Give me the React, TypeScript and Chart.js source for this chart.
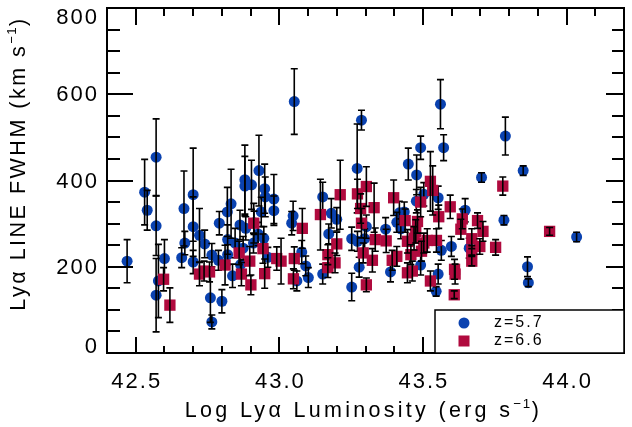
import React, { useEffect, useRef } from "react";
import { Chart, registerables } from "chart.js";

Chart.register(...registerables);

// ---- data ----
const blueLum = [42.47, 42.531, 42.54, 42.571, 42.571, 42.60, 42.579, 42.571, 42.668, 42.671, 42.66, 42.70, 42.70, 42.70, 42.722, 42.74, 42.765, 42.76, 42.765, 42.791, 42.80, 42.788, 42.819, 42.832, 42.82, 42.82, 42.837, 42.846, 42.863, 42.865, 42.88, 42.88, 42.903, 42.912, 42.929, 42.949, 42.937, 42.951, 42.981, 42.981, 42.946, 42.926, 42.91, 42.96, 42.883, 43.052, 43.048, 43.043, 43.078, 43.092, 43.101, 43.061, 43.151, 43.151, 43.172, 43.181, 43.20, 43.252, 43.252, 43.272, 43.271, 43.286, 43.278, 43.303, 43.37, 43.387, 43.418, 43.409, 43.449, 43.478, 43.492, 43.503, 43.477, 43.561, 43.572, 43.553, 43.647, 43.599, 43.564, 43.661, 43.553, 43.546, 43.492, 43.435, 43.704, 43.787, 43.782, 43.849, 43.864, 43.867, 44.035, 43.297, 43.423, 42.874];
const blueFwhm = [213, 373, 331, 454, 295, 219, 167, 134, 335, 255, 221, 367, 293, 211, 273, 253, 227, 128, 72, 301, 120, 215, 327, 346, 263, 228, 179, 255, 297, 205, 402, 387, 390, 302, 423, 381, 327, 362, 357, 330, 266, 276, 255, 222, 289, 583, 318, 301, 234, 202, 175, 167, 362, 183, 276, 324, 310, 153, 265, 259, 428, 540, 199, 293, 287, 188, 325, 303, 438, 413, 476, 368, 352, 577, 476, 360, 331, 247, 238, 243, 183, 143, 204, 327, 407, 503, 308, 423, 200, 163, 269, 265, 288, 243];
const blueErr = [50, 76, 46, 89, 69, 44, 85, 85, 87, 27, 23, 108, 69, 27, 62, 32, 27, 57, 16, 27, 27, 23, 57, 80, 34, 23, 27, 34, 34, 27, 80, 69, 57, 27, 82, 57, 34, 46, 57, 34, 27, 27, 23, 23, 27, 76, 34, 27, 27, 23, 23, 23, 34, 23, 23, 34, 27, 32, 27, 23, 103, 23, 23, 27, 27, 23, 27, 23, 37, 46, 27, 27, 27, 57, 30, 27, 27, 23, 23, 23, 23, 11, 23, 23, 11, 44, 11, 11, 23, 9, 11, 23, 23, 27];

const redLum = [42.597, 42.619, 42.722, 42.738, 42.757, 42.811, 42.86, 42.868, 42.897, 42.901, 42.911, 42.943, 42.949, 42.991, 43.006, 43.052, 43.049, 43.08, 43.143, 43.169, 43.169, 43.20, 43.194, 43.212, 43.272, 43.303, 43.283, 43.33, 43.286, 43.292, 43.303, 43.324, 43.334, 43.372, 43.398, 43.393, 43.409, 43.438, 43.446, 43.446, 43.463, 43.475, 43.469, 43.492, 43.458, 43.495, 43.526, 43.534, 43.526, 43.547, 43.515, 43.555, 43.595, 43.61, 43.612, 43.609, 43.637, 43.632, 43.67, 43.67, 43.67, 43.69, 43.709, 43.698, 43.753, 43.778, 43.941, 43.503, 43.481];
const redFwhm = [171, 111, 183, 190, 188, 204, 232, 183, 213, 158, 301, 242, 184, 219, 213, 219, 172, 289, 321, 228, 198, 253, 209, 367, 369, 386, 335, 337, 301, 232, 158, 215, 263, 260, 360, 215, 224, 307, 259, 186, 190, 282, 266, 350, 228, 236, 398, 377, 167, 261, 261, 316, 339, 194, 183, 135, 311, 287, 265, 238, 213, 307, 282, 247, 245, 387, 282, 255, 305];
const redErr = [27, 40, 27, 23, 23, 46, 27, 27, 34, 23, 46, 34, 34, 27, 53, 27, 23, 46, 82, 23, 23, 27, 23, 80, 34, 46, 34, 57, 34, 23, 16, 27, 27, 27, 41, 23, 23, 27, 27, 23, 23, 27, 27, 34, 23, 23, 69, 57, 23, 27, 27, 27, 27, 23, 23, 9, 23, 23, 23, 11, 11, 18, 23, 18, 18, 21, 9, 23, 27];

const seriesLabels = ["z=5.7", "z=6.6"];
const xTickValues = [42.5, 43.0, 43.5, 44.0];
const xTickLabels = ["42.5", "43.0", "43.5", "44.0"];
const yTickValues = [0, 200, 400, 600, 800];
const yTickLabels = ["0", "200", "400", "600", "800"];
const xRange = [42.4, 44.2];
const yRange = [0, 800];
const xMinorStep = 0.1;
const yMinorStep = 50;

const BLUE = "#0a42b0";
const RED = "#b00a3e";
const FONT = '"Liberation Sans", Arial, sans-serif';

type Seg = { t: string; sup?: boolean };

function drawRich(ctx: CanvasRenderingContext2D, segs: Seg[], x: number, y: number, size: number, spacing: number) {
  const parts = segs.map((s) => {
    const fs = s.sup ? size * 0.62 : size;
    const sp = s.sup ? spacing * 0.5 : spacing;
    ctx.font = `${fs}px ${FONT}`;
    (ctx as any).letterSpacing = `${sp}px`;
    return { ...s, fs, sp, w: ctx.measureText(s.t).width };
  });
  const total = parts.reduce((a, p) => a + p.w, 0);
  let cx = x - total / 2;
  ctx.textAlign = "left";
  ctx.textBaseline = "alphabetic";
  for (const p of parts) {
    ctx.font = `${p.fs}px ${FONT}`;
    (ctx as any).letterSpacing = `${p.sp}px`;
    ctx.fillText(p.t, cx, p.sup ? y - size * 0.42 : y);
    cx += p.w;
  }
  (ctx as any).letterSpacing = "0px";
}

const errSets = [blueErr, redErr];

const decorPlugin = {
  id: "decor",
  afterDatasetDraw(chart: any, args: any) {
    const ctx: CanvasRenderingContext2D = chart.ctx;
    const xs = chart.scales.x;
    const ys = chart.scales.y;
    const ds = chart.data.datasets[args.index];
    const errs = errSets[args.index];
    ctx.save();
    ctx.strokeStyle = "#000";
    ctx.lineWidth = 1.6;
    ds.data.forEach((p: any, i: number) => {
      const e = errs[i];
      const px = xs.getPixelForValue(p.x);
      const y1 = ys.getPixelForValue(p.y + e);
      const y2 = ys.getPixelForValue(p.y - e);
      ctx.beginPath();
      ctx.moveTo(px, y1);
      ctx.lineTo(px, y2);
      ctx.moveTo(px - 3.5, y1);
      ctx.lineTo(px + 3.5, y1);
      ctx.moveTo(px - 3.5, y2);
      ctx.lineTo(px + 3.5, y2);
      ctx.stroke();
    });
    ctx.restore();
  },
  afterDraw(chart: any) {
    const ctx: CanvasRenderingContext2D = chart.ctx;
    const xs = chart.scales.x;
    const ys = chart.scales.y;
    const { left, right, top, bottom } = chart.chartArea;
    ctx.save();
    ctx.strokeStyle = "#000";
    ctx.fillStyle = "#000";
    ctx.lineWidth = 2;
    ctx.lineCap = "butt";
    // frame
    ctx.strokeRect(left, top, right - left, bottom - top);
    // x ticks
    ctx.beginPath();
    for (let v = xRange[0] + xMinorStep; v < xRange[1] - 1e-6; v += xMinorStep) {
      const isMajor = xTickValues.some((t) => Math.abs(t - v) < 1e-6);
      const px = Math.round(xs.getPixelForValue(v));
      ctx.moveTo(px, bottom);
      ctx.lineTo(px, bottom - (isMajor ? 16 : 7));
      ctx.moveTo(px, top);
      ctx.lineTo(px, top + (isMajor ? 17 : 8));
    }
    // y ticks
    for (let v = yRange[0] + yMinorStep; v < yRange[1] - 1e-6; v += yMinorStep) {
      const isMajor = yTickValues.some((t) => Math.abs(t - v) < 1e-6);
      const py = Math.round(ys.getPixelForValue(v));
      ctx.moveTo(left, py);
      ctx.lineTo(left + (isMajor ? 26 : 13), py);
      ctx.moveTo(right, py);
      ctx.lineTo(right - (isMajor ? 18 : 12), py);
    }
    ctx.stroke();

    // tick labels
    const tickSize = 22;
    const sp = 2;
    ctx.font = `${tickSize}px ${FONT}`;
    (ctx as any).letterSpacing = `${sp}px`;
    ctx.textBaseline = "alphabetic";
    ctx.textAlign = "left";
    xTickValues.forEach((v, i) => {
      const w = ctx.measureText(xTickLabels[i]).width - sp;
      ctx.fillText(xTickLabels[i], xs.getPixelForValue(v) - w / 2, bottom + 35);
    });
    ctx.textBaseline = "middle";
    yTickValues.forEach((v, i) => {
      const w = ctx.measureText(yTickLabels[i]).width - sp;
      let py = ys.getPixelForValue(v) + 1;
      py = Math.min(Math.max(py, top + 10), bottom - 6);
      ctx.fillText(yTickLabels[i], left - 10 - w, py);
    });
    (ctx as any).letterSpacing = "0px";

    // axis titles
    drawRich(ctx, [{ t: "Log Lyα Luminosity (erg s" }, { t: "−1", sup: true }, { t: ")" }], (left + right) / 2 - 2, bottom + 64, 21.5, 3.3);
    ctx.save();
    ctx.translate(25, (top + bottom) / 2 - 17);
    ctx.rotate(-Math.PI / 2);
    drawRich(ctx, [{ t: "Lyα LINE FWHM (km s" }, { t: "−1", sup: true }, { t: ")" }], 0, 0, 21.5, 2.5);
    ctx.restore();

    // legend
    const lx = right - 189;
    const ly = bottom - 43;
    ctx.lineWidth = 1.5;
    ctx.fillStyle = "#fff";
    ctx.beginPath();
    ctx.rect(lx, ly, right - lx, bottom - ly);
    ctx.fill();
    ctx.stroke();
    ctx.fillStyle = BLUE;
    ctx.beginPath();
    ctx.arc(lx + 29, ly + 13, 5.5, 0, Math.PI * 2);
    ctx.fill();
    ctx.fillStyle = RED;
    ctx.fillRect(lx + 29 - 5.5, ly + 31 - 5.5, 11, 11);
    ctx.fillStyle = "#000";
    ctx.font = `16px ${FONT}`;
    (ctx as any).letterSpacing = "2px";
    ctx.textAlign = "left";
    ctx.textBaseline = "middle";
    ctx.fillText(seriesLabels[0], lx + 59, ly + 13);
    ctx.fillText(seriesLabels[1], lx + 59, ly + 31);
    (ctx as any).letterSpacing = "0px";
    ctx.restore();
  },
};

export default function App() {
  const ref = useRef<HTMLCanvasElement | null>(null);
  useEffect(() => {
    if (!ref.current) return;
    const chart = new Chart(ref.current, {
      type: "scatter",
      data: {
        datasets: [
          {
            label: seriesLabels[0],
            data: blueLum.map((x, i) => ({ x, y: blueFwhm[i] })),
            pointStyle: "circle",
            pointRadius: 5.5,
            pointBackgroundColor: BLUE,
            pointBorderWidth: 0,
            borderColor: BLUE,
            order: 1,
          },
          {
            label: seriesLabels[1],
            data: redLum.map((x, i) => ({ x, y: redFwhm[i] })),
            pointStyle: "rect",
            pointRadius: 8,
            pointBackgroundColor: RED,
            pointBorderWidth: 0,
            borderColor: RED,
            order: 0,
          },
        ],
      },
      options: {
        animation: false,
        responsive: false,
        maintainAspectRatio: false,
        layout: { padding: { left: 107, right: 1, top: 4, bottom: 74 } },
        plugins: { legend: { display: false }, tooltip: { enabled: false } },
        scales: {
          x: { type: "linear", min: xRange[0], max: xRange[1], display: false },
          y: { type: "linear", min: yRange[0], max: yRange[1], display: false },
        },
      },
      plugins: [decorPlugin],
    });
    return () => chart.destroy();
  }, []);
  return (
    <div style={{ position: "fixed", left: 0, top: 0, width: 632, height: 427, background: "#fff" }}>
      <canvas ref={ref} width={632} height={427} />
    </div>
  );
}
